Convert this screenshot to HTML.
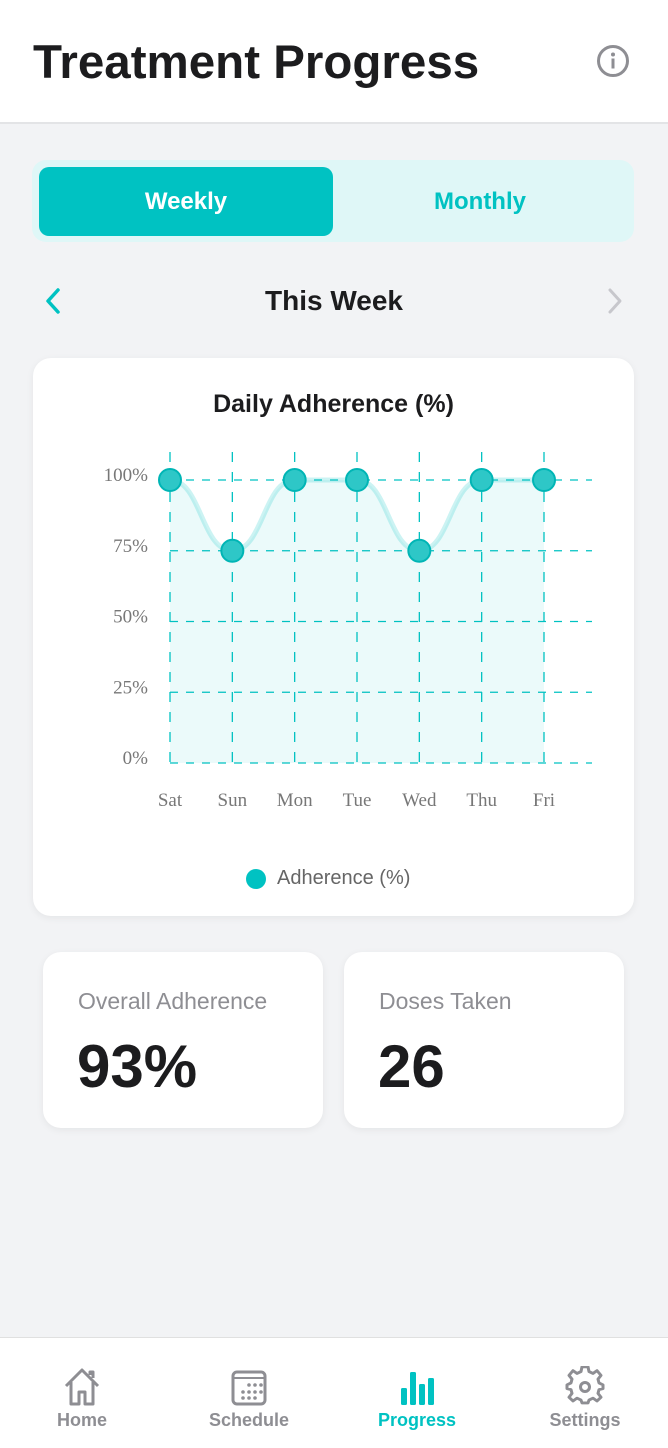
<!DOCTYPE html>
<html><head><meta charset="utf-8"><style>
*{margin:0;padding:0;box-sizing:border-box}
body{width:668px;height:1448px;background:#f2f3f5;font-family:"Liberation Sans",sans-serif;position:relative;overflow:hidden;color:#1c1c1e}
.abs{position:absolute}
</style></head><body>
<div class="abs" style="left:0;top:0;width:668px;height:124px;background:#fff;border-bottom:2px solid #e3e4e6">
<div class="abs" style="left:33px;top:35px;font-size:47.5px;font-weight:bold;letter-spacing:0px">Treatment Progress</div>
<svg class="abs" style="left:596px;top:44px" width="34" height="34" viewBox="0 0 34 34"><circle cx="17" cy="17" r="14.5" fill="none" stroke="#8e8e93" stroke-width="3"/><circle cx="17" cy="10.5" r="2" fill="#8e8e93"/><rect x="15.5" y="14.5" width="3" height="10" fill="#8e8e93"/></svg>
</div>
<div class="abs" style="left:32px;top:160px;width:602px;height:82px;background:#dff7f7;border-radius:14px">
<div class="abs" style="left:7px;top:7px;width:294px;height:69px;background:#00c2c2;border-radius:10px;color:#fff;font-weight:bold;font-size:24px;text-align:center;line-height:69px">Weekly</div>
<div class="abs" style="left:301px;top:7px;width:294px;height:69px;color:#00c2c2;font-weight:bold;font-size:24px;text-align:center;line-height:69px">Monthly</div>
</div>
<svg class="abs" style="left:40px;top:286px" width="26" height="30"><path d="M18 4 L8 15 L18 26" fill="none" stroke="#00c2c2" stroke-width="3.5" stroke-linecap="round" stroke-linejoin="round"/></svg>
<div class="abs" style="left:0;width:668px;top:285px;text-align:center;font-size:28px;font-weight:bold">This Week</div>
<svg class="abs" style="left:602px;top:286px" width="26" height="30"><path d="M8 4 L18 15 L8 26" fill="none" stroke="#c7c7cc" stroke-width="3" stroke-linecap="round" stroke-linejoin="round"/></svg>
<div class="abs" style="left:33px;top:358px;width:601px;height:558px;background:#fff;border-radius:18px;box-shadow:0 2px 8px rgba(0,0,0,0.06)">
<div class="abs" style="left:0;width:601px;top:32px;text-align:center;font-size:25px;font-weight:bold">Daily Adherence (%)</div>
</div>
<svg class="abs" id="chart" style="left:0;top:0" width="668" height="900"></svg>
<div class="abs" style="left:246px;top:867px;font-size:20px;color:#666;display:flex;align-items:center"><span style="display:inline-block;width:20px;height:20px;border-radius:50%;background:#00c2c2;margin-right:11px"></span>Adherence (%)</div>
<div class="abs" style="left:43px;top:952px;width:280px;height:176px;background:#fff;border-radius:18px;box-shadow:0 2px 8px rgba(0,0,0,0.06)">
<div class="abs" style="left:35px;top:36px;font-size:23px;color:#8e8e93">Overall Adherence</div>
<div class="abs" style="left:34px;top:80px;font-size:60px;font-weight:bold">93%</div></div>
<div class="abs" style="left:344px;top:952px;width:280px;height:176px;background:#fff;border-radius:18px;box-shadow:0 2px 8px rgba(0,0,0,0.06)">
<div class="abs" style="left:35px;top:36px;font-size:23px;color:#8e8e93">Doses Taken</div>
<div class="abs" style="left:34px;top:80px;font-size:60px;font-weight:bold">26</div></div>
<div class="abs" style="left:0;top:1337px;width:668px;height:111px;background:#fff;border-top:1px solid #e0e0e0">
<div class="abs" style="left:32px;top:28px;width:100px;text-align:center;color:#8e8e93;font-size:18px;font-weight:bold">
<svg width="40" height="42" viewBox="0 0 40 42"><path d="M4 20 L20 4 L36 20 M9 16 V38 H17 V26 H23 V38 H31 V16 M28 9 V6 H31 V12" fill="none" stroke="#8e8e93" stroke-width="3" stroke-linejoin="round"/></svg><div style="margin-top:-3px">Home</div></div>
<div class="abs" style="left:199px;top:28px;width:100px;text-align:center;color:#8e8e93;font-size:18px;font-weight:bold">
<svg width="40" height="42" viewBox="0 0 40 42"><rect x="4" y="6" width="32" height="32" rx="4" fill="none" stroke="#8e8e93" stroke-width="3"/><line x1="4" y1="12" x2="36" y2="12" stroke="#8e8e93" stroke-width="2"/><g fill="#8e8e93"><circle cx="20" cy="19" r="1.8"/><circle cx="26" cy="19" r="1.8"/><circle cx="32" cy="19" r="1.8"/><circle cx="14" cy="26" r="1.8"/><circle cx="20" cy="26" r="1.8"/><circle cx="26" cy="26" r="1.8"/><circle cx="32" cy="26" r="1.8"/><circle cx="14" cy="32" r="1.8"/><circle cx="20" cy="32" r="1.8"/><circle cx="26" cy="32" r="1.8"/></g></svg><div style="margin-top:-3px">Schedule</div></div>
<div class="abs" style="left:367px;top:28px;width:100px;text-align:center;color:#00c2c2;font-size:18px;font-weight:bold">
<svg width="40" height="42" viewBox="0 0 40 42"><g fill="#00c2c2"><rect x="4" y="22" width="6" height="17" rx="1.5"/><rect x="13" y="6" width="6" height="33" rx="1.5"/><rect x="22" y="18" width="6" height="21" rx="1.5"/><rect x="31" y="12" width="6" height="27" rx="1.5"/></g></svg><div style="margin-top:-3px">Progress</div></div>
<div class="abs" style="left:535px;top:28px;width:100px;text-align:center;color:#8e8e93;font-size:18px;font-weight:bold">
<svg width="40" height="42" viewBox="0 0 40 42"><path d="M17 4 H23 L24 9 L28 11 L32 8 L36 13 L33 17 L34 21 L38 23 V27 L34 28 L33 32 L36 36 L32 40 L28 37 L24 39 L23 42 H17 L16 39 L12 37 L8 40 L4 36 L7 32 L6 28 L2 27 V23 L6 21 L7 17 L4 13 L8 8 L12 11 L16 9 Z" transform="translate(0,-3) scale(1,0.95)" fill="none" stroke="#8e8e93" stroke-width="3" stroke-linejoin="round"/><circle cx="20" cy="21" r="4.5" fill="none" stroke="#8e8e93" stroke-width="3"/></svg><div style="margin-top:-3px">Settings</div></div>
</div>
<script>
const categories=["Sat","Sun","Mon","Tue","Wed","Thu","Fri"];
const values=[100,75,100,100,75,100,100];
const yTicks=[0,25,50,75,100];
const yTickLabels=["0%","25%","50%","75%","100%"];
const svg=document.getElementById('chart');
const NS='http://www.w3.org/2000/svg';
const x0=170,x1=544,yb=763,yt=480;
const xs=i=>x0+(x1-x0)*i/(categories.length-1);
const ys=v=>yb-(yb-yt)*v/100;
function mk(t,a){const e=document.createElementNS(NS,t);for(const k in a)e.setAttribute(k,a[k]);svg.appendChild(e);return e;}
yTicks.forEach((t,i)=>{
 const l=mk('line',{x1:x0,x2:592,y1:ys(t),y2:ys(t),stroke:'#00c2c2','stroke-width':1.3,'stroke-dasharray':'8 8'});
 
 
 const tx=mk('text',{x:148,y:ys(t)+1,'text-anchor':'end','font-family':'Liberation Serif, serif','font-size':19,fill:'#777'});
 tx.textContent=yTickLabels[i];
 
 
});
categories.forEach((c,i)=>{
 const l=mk('line',{x1:xs(i),x2:xs(i),y1:452,y2:yb,stroke:'#00c2c2','stroke-width':1.3,'stroke-dasharray':'10 10'});
 
 
 const tx=mk('text',{x:xs(i),y:806,'text-anchor':'middle','font-family':'Liberation Serif, serif','font-size':19,fill:'#777'});
 tx.textContent=c;
 
 
});
let d='M'+xs(0)+' '+ys(values[0]);
for(let i=1;i<values.length;i++){const xa=xs(i-1),xb=xs(i),m=(xa+xb)/2;d+=' C'+m+' '+ys(values[i-1])+' '+m+' '+ys(values[i])+' '+xb+' '+ys(values[i]);}
const area=mk('path',{d:d+' L'+xs(values.length-1)+' '+yb+' L'+xs(0)+' '+yb+' Z',fill:'rgba(0,194,194,0.08)'});


const line=mk('path',{d:d,fill:'none',stroke:'rgba(0,194,194,0.2)','stroke-width':5});


values.forEach((v,i)=>{
 const p=mk('circle',{cx:xs(i),cy:ys(v),r:11,fill:'#2ec7c7',stroke:'#00b5b5','stroke-width':2});
 
 
});
</script>
</body></html>
